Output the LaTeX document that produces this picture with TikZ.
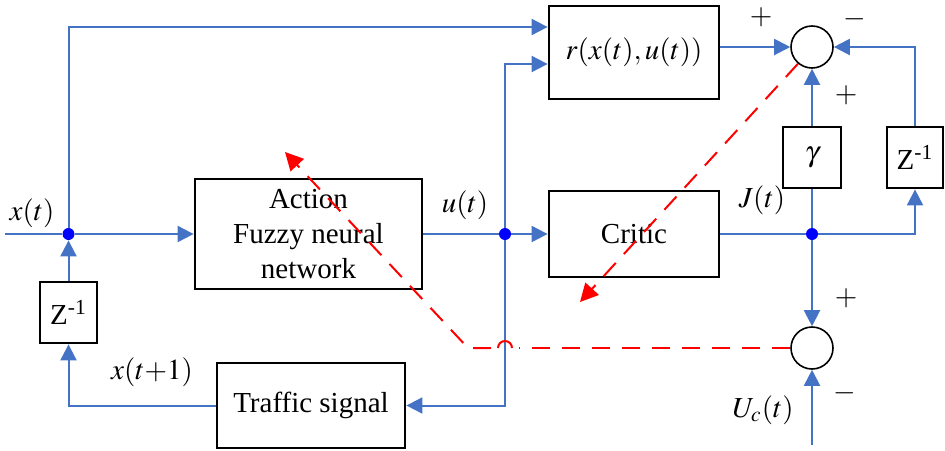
\documentclass[tikz,border=0pt]{standalone}
\usepackage{mathptmx}
\usepackage{fontspec}
\setmainfont{Liberation Serif}
\usetikzlibrary{arrows.meta,positioning}
\definecolor{lineblue}{RGB}{68,114,196}
\definecolor{dotblue}{RGB}{0,0,255}
\definecolor{learnred}{RGB}{255,0,0}

\begin{document}
\begin{tikzpicture}[x=0.5pt,y=-0.5pt,font=\fontsize{14.5}{17.5}\selectfont,
		box/.style={draw,line width=1.4pt,align=center,inner sep=0pt},
		sum/.style={circle,draw,line width=0.8pt,minimum size=21pt,inner sep=0pt},
		dot/.style={circle,fill=dotblue,minimum size=6pt,inner sep=0pt},
		sign/.style={inner sep=0.5pt},
		wire/.style={draw=lineblue,line width=1pt},
		sig/.style={wire,-{Triangle[length=8pt,width=8pt]}},
		learn/.style={draw=learnred,line width=1pt,dash pattern=on 9pt off 6pt,-{Triangle[length=9pt,width=9pt]}}]
	\useasboundingbox (0,0) rectangle (945,450);
	% blocks
	\node[box,minimum width=113.5pt,minimum height=55pt] (action) at (308.5,234) {Action\\Fuzzy neural\\network};
	\node[box,minimum width=85pt,minimum height=43pt] (critic) at (634,234) {Critic};
	\node[box,minimum width=85pt,minimum height=46.5pt] (reward) at (634,52.5) {$r(x(t),u(t))$};
	\node[box,minimum width=29pt,minimum height=30.5pt] (gain) at (812,157.5) {$\gamma$};
	\node[box,minimum width=28pt,minimum height=30.5pt] (delayR) at (915,157.5) {Z\textsuperscript{-1}};
	\node[box,minimum width=28.5pt,minimum height=30.5pt] (delayL) at (68.5,312.5) {Z\textsuperscript{-1}};
	\node[box,minimum width=94pt,minimum height=42.5pt] (plant) at (311,405.5) {Traffic signal};
	\node[sum] (sumtop) at (812,47) {};
	\node[sum] (sumbot) at (812,348) {};
	% branch points
	\node[dot] (xdot) at (68.5,234) {};
	\node[dot] (udot) at (505,234) {};
	\node[dot] (jdot) at (812,234) {};
	\coordinate (xin) at (5,234);
	\coordinate (ucin) at (812,445);

	% signal flow
	\draw[sig] (xin) -- (xdot) -- (action.west);
	\draw[sig] (xdot) |- ([yshift=12.75pt]reward.west);
	\draw[sig] (action.east) -- (udot) -- (critic.west);
	\draw[sig] (udot) |- ([yshift=-5.75pt]reward.west);
	\draw[sig] (udot) |- (plant.east);
	\draw[sig] (plant.west) -| (delayL.south);
	\draw[sig] (delayL.north) -- (xdot);
	\draw[sig] (reward.east |- sumtop) -- (sumtop.west);
	\draw[wire] (critic.east) -- (jdot) -- (gain.south);
	\draw[sig] (gain.north) -- (sumtop.south);
	\draw[sig] (jdot) -| (delayR.south);
	\draw[sig] (delayR.north) |- (sumtop.east);
	\draw[sig] (jdot) -- (sumbot.north);
	\draw[sig] (ucin) -- (sumbot.south);

	% learning paths
	\coordinate (crtip) at (580,302);
	\coordinate (hop) at (505,348);
	\coordinate (bend) at (468,348);
	\coordinate (acttip) at (285,152);
	\draw[learn] (sumtop.230) -- (crtip);
	\draw[learn,-] (sumbot.west) -- ([xshift=7pt]hop);
	\draw[draw=learnred,line width=1pt] ([xshift=3.5pt]hop) arc (0:180:3.5pt);
	\draw[learn] ([xshift=-7pt]hop) -- (bend) -- (acttip);

	% labels
	\node (xlab) at (32,213) {$x(t)$};
	\node (ulab) at (465,205) {$u(t)$};
	\node (jlab) at (762,200) {$J(t)$};
	\node (x1lab) at (152,372) {$x(t{+}1)$};
	\node (uclab) at (763,410) {$U_c(t)$};
	\node[sign] (ptop) at (761,17) {$+$};
	\node[sign] (mtop) at (855,19) {$-$};
	\node[sign] (pgain) at (846,95) {$+$};
	\node[sign] (pbot) at (846,298) {$+$};
	\node[sign] (mbot) at (845,393) {$-$};
\end{tikzpicture}
\end{document}
